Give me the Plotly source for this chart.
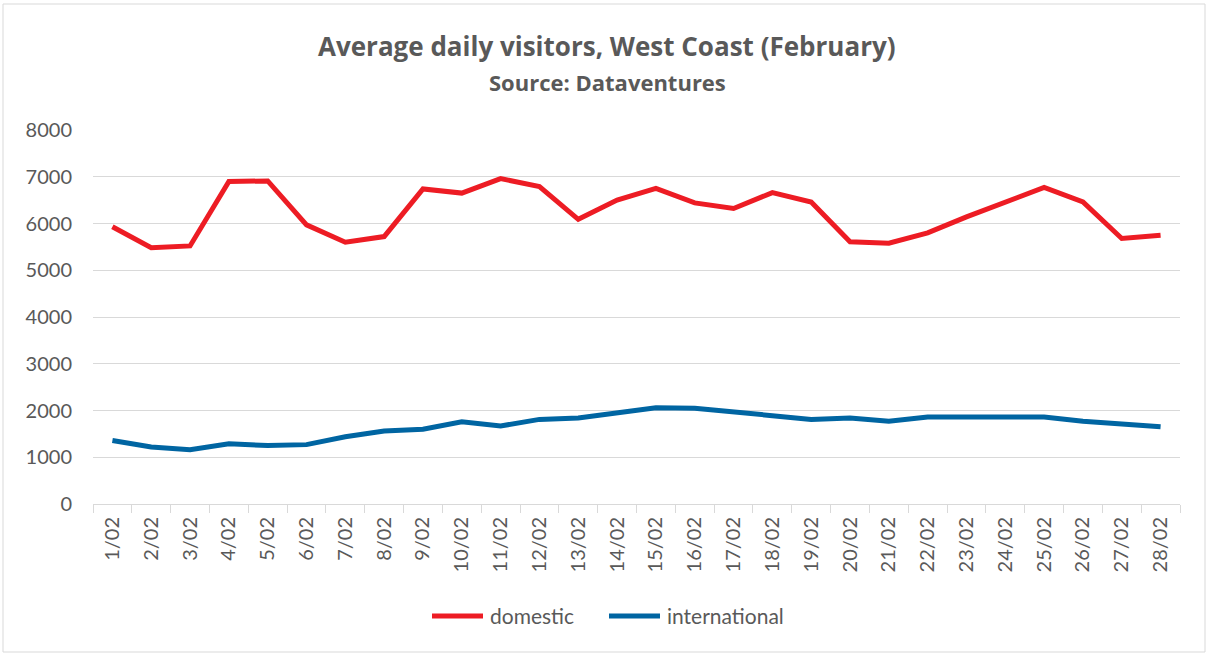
import plotly.graph_objects as go

days = [f"{d}/02" for d in range(1, 29)]
domestic = [5930, 5480, 5520, 6900, 6910, 5970, 5600, 5720, 6740, 6650,
            6960, 6790, 6090, 6500, 6750, 6440, 6320, 6660, 6460, 5610,
            5580, 5800, 6140, 6460, 6770, 6460, 5680, 5750]
international = [1360, 1220, 1160, 1290, 1250, 1270, 1440, 1560, 1600, 1760,
                 1670, 1810, 1840, 1950, 2060, 2050, 1980, 1890, 1810, 1840,
                 1770, 1860, 1860, 1860, 1860, 1770, 1700, 1650]
yticks = [0, 1000, 2000, 3000, 4000, 5000, 6000, 7000, 8000]
series_names = ["domestic", "international"]
series_colors = ["#ED1C24", "#0065A2"]

FONT = "Lato"
TFONT = "Open Sans"
GREY = "#595959"
W, H = 1208, 655
L, R, T, B = 93, 28, 130, 151
pw, ph = W - L - R, H - T - B

def px_x(p):
    return (p - L) / pw

def px_y(p):
    return (H - B - p) / ph

fig = go.Figure()
for name, vals, col in zip(series_names, [domestic, international], series_colors):
    fig.add_trace(go.Scatter(x=days, y=vals, mode="lines", name=name, showlegend=False,
                             line=dict(color=col, width=5)))

# manual legend (Excel-style long line keys)
legend_line_x = [430, 607]
shapes = [dict(type="rect", xref="paper", yref="paper",
               x0=px_x(3), x1=px_x(1205), y0=px_y(652), y1=px_y(4),
               line=dict(color="#d9d9d9", width=1), fillcolor="rgba(0,0,0,0)",
               layer="below")]
annotations = [
    dict(text="<b>Average daily visitors, West Coast (February)</b>", xref="paper", yref="paper",
         x=px_x(607), y=px_y(46), xanchor="center", yanchor="middle", showarrow=False,
         font=dict(size=26, color=GREY, family=TFONT)),
    dict(text="<b>Source: Dataventures</b>", xref="paper", yref="paper",
         x=px_x(607), y=px_y(82), xanchor="center", yanchor="middle", showarrow=False,
         font=dict(size=22, color=GREY, family=TFONT)),
]
for lx, name, col in zip(legend_line_x, series_names, series_colors):
    shapes.append(dict(type="line", xref="paper", yref="paper",
                       x0=px_x(lx + 2), x1=px_x(lx + 53), y0=px_y(616), y1=px_y(616),
                       line=dict(color=col, width=5)))
    annotations.append(dict(text=name, xref="paper", yref="paper",
                            x=px_x(lx + 58), y=px_y(615), xanchor="left", yanchor="middle",
                            showarrow=False, font=dict(size=21, color=GREY, family=FONT)))

fig.update_layout(
    width=W, height=H,
    margin=dict(l=L, r=R, t=T, b=B),
    paper_bgcolor="white", plot_bgcolor="white",
    font=dict(family=FONT, color=GREY, size=20),
    showlegend=False,
    xaxis=dict(type="category", range=[-0.5, 27.5], tickangle=-90,
               showgrid=False, showline=True, linecolor="#d9d9d9", linewidth=1,
               ticks="outside", tickson="boundaries", ticklen=8, tickcolor="#d9d9d9",
               ticklabelstandoff=4,
               tickfont=dict(size=20, color=GREY)),
    yaxis=dict(range=[0, 8000], tickvals=yticks, showgrid=True, gridcolor="#d9d9d9",
               gridwidth=1, zeroline=False, showline=False, ticks="",
               ticklabelstandoff=20,
               tickfont=dict(size=20, color=GREY)),
    shapes=shapes,
    annotations=annotations,
)

fig.write_html("out.html", config={"displayModeBar": False},
               post_script="document.body.style.margin='0';")
